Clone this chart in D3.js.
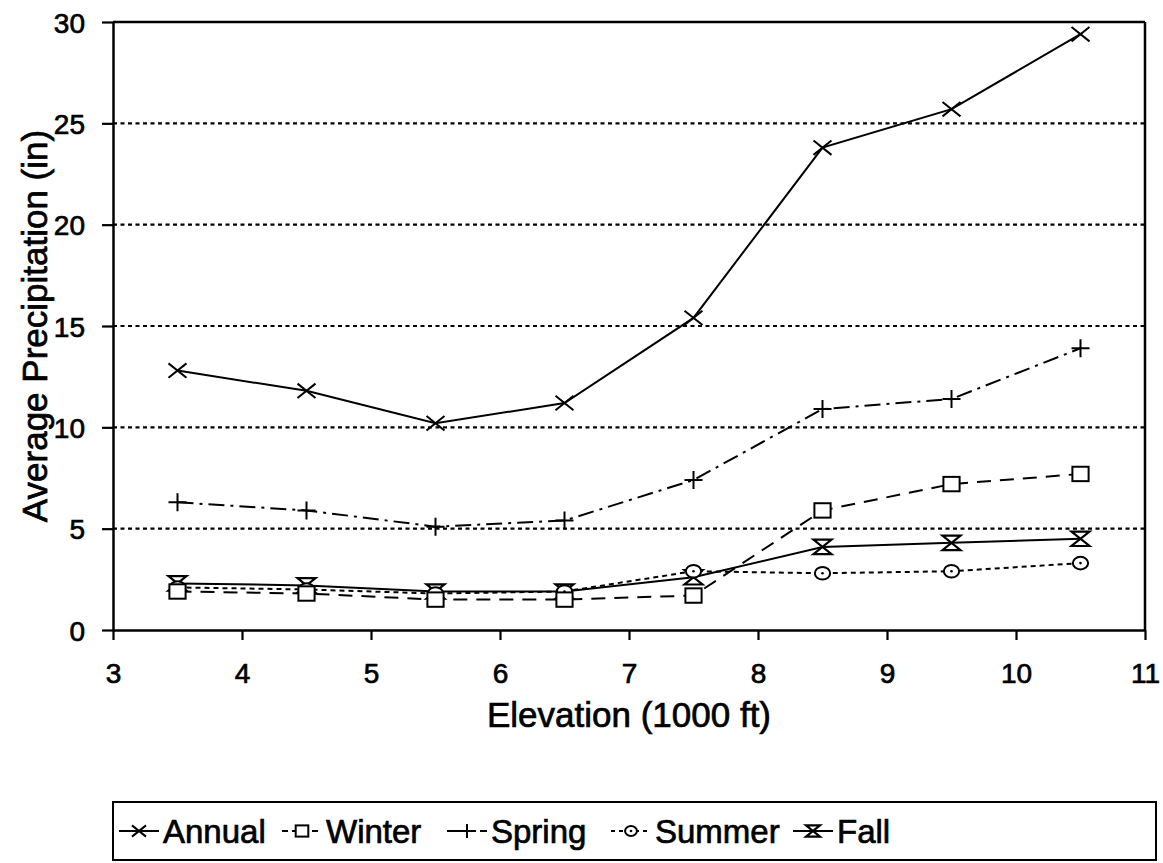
<!DOCTYPE html>
<html>
<head>
<meta charset="utf-8">
<script src="https://cdn.jsdelivr.net/npm/d3@7"></script>
<style>
    body { margin: 0; background: #fff; }
    text { font-family: "Liberation Sans", Arial, sans-serif; fill: #000; stroke: #000; stroke-width: 0.7px; }
</style>
</head>
<body>
<svg id="chart" width="1163" height="863"></svg>
<script>
// Elevation bins (1000 ft)
var elevations = [3.5, 4.5, 5.5, 6.5, 7.5, 8.5, 9.5, 10.5];

// Average precipitation (in) per season
var annual = [12.8, 11.8, 10.2, 11.2, 15.4, 23.8, 25.7, 29.4];
var winter = [1.9, 1.8, 1.5, 1.5, 1.7, 5.9, 7.2, 7.7];
var spring = [6.3, 5.9, 5.1, 5.4, 7.4, 10.9, 11.4, 13.9];
var summer = [2.1, 2.0, 1.8, 1.9, 2.9, 2.8, 2.9, 3.3];
var fall = [2.3, 2.2, 1.9, 1.9, 2.6, 4.1, 4.3, 4.5];

var xTicks = [3, 4, 5, 6, 7, 8, 9, 10, 11];
var yTicks = [0, 5, 10, 15, 20, 25, 30];

var series = [
    {name: "Annual", values: annual, dash: null, marker: "cross"},
    {name: "Winter", values: winter, dash: "14,9", marker: "square"},
    {name: "Spring", values: spring, dash: "16,6,3,6", marker: "plus"},
    {name: "Summer", values: summer, dash: "5,4", marker: "circle"},
    {name: "Fall", values: fall, dash: null, marker: "hourglass"}
];

var padding = {top: 22, right: 18, bottom: 233, left: 113};
var svg = d3.select("#chart");
var chartWidth = 1163 - padding.left - padding.right;
var chartHeight = 863 - padding.top - padding.bottom;

var xScale = d3.scaleLinear().domain([3, 11]).range([0, chartWidth]);
var yScale = d3.scaleLinear().domain([0, 30]).range([chartHeight, 0]);

var plot = svg.append("g")
    .attr("transform", `translate(${padding.left}, ${padding.top})`);

// Dotted horizontal gridlines
plot.selectAll(".grid")
    .data(yTicks.filter(t => t > 0 && t < 30))
    .enter()
    .append("line")
    .attr("x1", 0)
    .attr("x2", chartWidth)
    .attr("y1", d => yScale(d))
    .attr("y2", d => yScale(d))
    .attr("stroke", "#000")
    .attr("stroke-width", 2.2)
    .attr("stroke-dasharray", "4,3.5");

// Frame: top and right
plot.append("line").attr("x1", 0).attr("x2", chartWidth).attr("y1", 0).attr("y2", 0)
    .attr("stroke", "#000").attr("stroke-width", 2.5);
plot.append("line").attr("x1", chartWidth).attr("x2", chartWidth).attr("y1", 0).attr("y2", chartHeight)
    .attr("stroke", "#000").attr("stroke-width", 2.5);

// Axes
var xAxis = plot.append("g")
    .attr("transform", `translate(0, ${chartHeight})`)
    .call(d3.axisBottom(xScale).tickValues(xTicks).tickSize(10).tickSizeOuter(0).tickPadding(23));
var yAxis = plot.append("g")
    .call(d3.axisLeft(yScale).tickValues(yTicks).tickSize(11).tickSizeOuter(0).tickPadding(17));

[xAxis, yAxis].forEach(function(axis) {
    axis.select(".domain").attr("stroke-width", 2.5);
    axis.selectAll(".tick line").attr("stroke-width", 2.2);
    axis.selectAll(".tick text")
        .style("font-size", "28px")
        .style("font-family", "Liberation Sans, Arial, sans-serif");
});
yAxis.selectAll(".tick text").attr("dy", "0.36em");

// Axis titles
svg.append("text")
    .attr("x", padding.left + chartWidth / 2)
    .attr("y", 727)
    .attr("text-anchor", "middle")
    .style("font-size", "35px")
    .text("Elevation (1000 ft)");

svg.append("text")
    .attr("transform", `translate(47, ${padding.top + chartHeight / 2}) rotate(-90)`)
    .attr("text-anchor", "middle")
    .style("font-size", "35px")
    .text("Average Precipitation (in)");

// Marker drawing
function drawMarker(g, type, size) {
    var s = size;
    var style = g => g.attr("fill", "none").attr("stroke", "#000").attr("stroke-width", 2);
    if (type === "cross") {
        g.append("path").attr("d", `M${-s},${-s * 0.8}L${s},${s * 0.8}M${-s},${s * 0.8}L${s},${-s * 0.8}`).call(style);
    } else if (type === "plus") {
        g.append("path").attr("d", `M${-s},0L${s},0M0,${-s}L0,${s}`).call(style);
    } else if (type === "square") {
        g.append("rect").attr("x", -s * 0.9).attr("y", -s * 0.8).attr("width", s * 1.8).attr("height", s * 1.6)
            .attr("fill", "#fff").attr("stroke", "#000").attr("stroke-width", 2);
    } else if (type === "circle") {
        g.append("ellipse").attr("rx", s * 0.85).attr("ry", s * 0.7)
            .attr("fill", "#fff").attr("stroke", "#000").attr("stroke-width", 2);
        g.append("circle").attr("r", 1.3).attr("fill", "#000");
    } else if (type === "hourglass") {
        g.append("path")
            .attr("d", `M${-s},${-s * 0.8}L${s},${-s * 0.8}L${-s},${s * 0.8}L${s},${s * 0.8}Z`)
            .attr("fill", "#fff").attr("stroke", "#000").attr("stroke-width", 2.2);
    }
}

var line = d3.line()
    .x((d, i) => xScale(elevations[i]))
    .y(d => yScale(d));

// Draw each series: line, then markers
series.slice().reverse().forEach(function(s) {
    plot.append("path")
        .datum(s.values)
        .attr("d", line)
        .attr("fill", "none")
        .attr("stroke", "#000")
        .attr("stroke-width", 2)
        .attr("stroke-dasharray", s.dash);

    plot.selectAll(".m-" + s.name)
        .data(s.values)
        .enter()
        .append("g")
        .attr("class", "m-" + s.name)
        .attr("transform", (d, i) => `translate(${xScale(elevations[i])}, ${yScale(d)})`)
        .each(function() { drawMarker(d3.select(this), s.marker, 9); });
});

// Legend
var legend = svg.append("g");
legend.append("rect")
    .attr("x", 113).attr("y", 802)
    .attr("width", 1043).attr("height", 58)
    .attr("fill", "#fff").attr("stroke", "#000").attr("stroke-width", 2);

var legendX = [119, 282, 447, 611, 793];
series.forEach(function(s, i) {
    var item = legend.append("g").attr("transform", `translate(${legendX[i]}, 831)`);
    item.append("line")
        .attr("x1", 0).attr("x2", 40)
        .attr("stroke", "#000").attr("stroke-width", 2)
        .attr("stroke-dasharray", s.dash ? (s.marker === "plus" ? "22,4,3,4" : (s.marker === "circle" ? "4,4" : "6,4")) : null);
    drawMarker(item.append("g").attr("transform", "translate(20, 0)"), s.marker, 7);
    item.append("text")
        .attr("x", 44)
        .attr("y", 12)
        .style("font-size", "33px")
        .text(s.name);
});
</script>
</body>
</html>
